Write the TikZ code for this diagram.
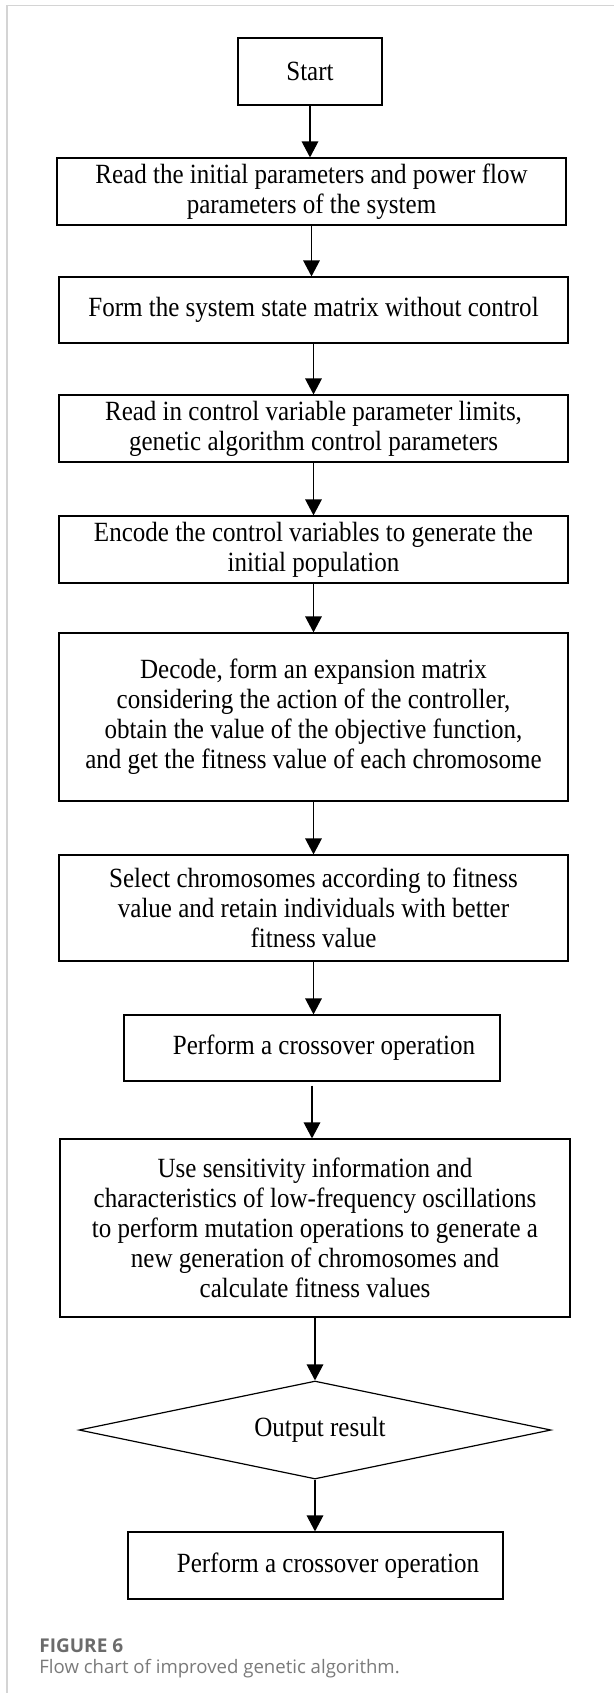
\documentclass[tikz,border=0pt]{standalone}
\usepackage{fontspec}
\setmainfont[FakeStretch=0.9]{Liberation Serif}
\newfontfamily\capfont{Open Sans}
\usetikzlibrary{arrows.meta,shapes.geometric}
\definecolor{framegray}{HTML}{D4D4D4}
\definecolor{capbold}{HTML}{6B6B6B}
\definecolor{captext}{HTML}{7A7A7A}
\tikzset{
  stepbox/.style={draw=black,line width=0.6pt,inner sep=0pt,align=center,
    font=\fontsize{13.9}{15}\selectfont},
  decbox/.style={draw=black,line width=0.6pt,diamond,aspect=4.8,inner sep=0pt,
    font=\fontsize{13.9}{15}\selectfont},
  arr/.style={draw=black,line width=0.6pt,-{Triangle[width=8.3pt,length=8pt]}},
}
\begin{document}
\begin{tikzpicture}[x=0.5pt,y=-0.5pt]
\useasboundingbox (0,0) rectangle (614,1693);
% frame
\draw[framegray,line width=0.8pt] (7,1693) -- (7,5.5) -- (614,5.5);

\node[stepbox,minimum width=72pt,minimum height=33.5pt] (start) at (310,71.5) {Start};
\node[stepbox,minimum width=254.5pt,minimum height=33.5pt] (b2) at (311.5,191.5)
  {Read the initial parameters and power flow\\parameters of the system};
\node[stepbox,minimum width=254.5pt,minimum height=33pt] (b3) at (313.5,310)
  {Form the system state matrix without control};
\node[stepbox,minimum width=254.5pt,minimum height=33.5pt] (b4) at (313.5,428.5)
  {Read in control variable parameter limits,\\genetic algorithm control parameters};
\node[stepbox,minimum width=254.5pt,minimum height=33.5pt] (b5) at (313.5,549.5)
  {Encode the control variables to generate the\\initial population};
\node[stepbox,minimum width=254.5pt,minimum height=84pt] (b6) at (313.5,717)
  {Decode, form an expansion matrix\\considering the action of the controller,\\obtain the value of the objective function,\\and get the fitness value of each chromosome};
\node[stepbox,minimum width=254.5pt,minimum height=53pt] (b7) at (313.5,908)
  {Select chromosomes according to fitness\\value and retain individuals with better\\fitness value};
\node[stepbox,minimum width=188pt,minimum height=33pt] (b8) at (312,1048)
  {\hspace*{12pt}Perform a crossover operation};
\node[stepbox,minimum width=255pt,minimum height=89pt] (b9) at (315,1228)
  {Use sensitivity information and\\characteristics of low-frequency oscillations\\to perform mutation operations to generate a\\new generation of chromosomes and\\calculate fitness values};
\node[decbox,minimum width=236pt,minimum height=49pt] (dec) at (315,1430)
  {\hspace*{5pt}Output result};
\node[stepbox,minimum width=187.5pt,minimum height=33.5pt] (b10) at (315.5,1565.5)
  {\hspace*{12.5pt}Perform a crossover operation};

\draw[arr] (start.south) -- (start.south |- b2.north);
\draw[arr] (b2.south) -- (b2.south |- b3.north);
\draw[arr] (b3.south) -- (b3.south |- b4.north);
\draw[arr] (b4.south) -- (b4.south |- b5.north);
\draw[arr] (b5.south) -- (b5.south |- b6.north);
\draw[arr] (b6.south) -- (b6.south |- b7.north);
\draw[arr] (b7.south) -- (b7.south |- b8.north);
\draw[arr] ([yshift=-2pt]b8.south) -- (b8.south |- b9.north);
\draw[arr] (b9.south) -- (b9.south |- dec.north);
\draw[arr] (dec.south) -- (dec.south |- b10.north);

% caption
\node[anchor=base west,inner sep=0pt,text=capbold,font=\capfont\bfseries\fontsize{9.5}{11}\selectfont] (cap1) at (39,1652) {FIGURE 6};
\node[anchor=base west,inner sep=0pt,text=captext,font=\capfont\fontsize{9.3}{11}\selectfont] (cap2) at (39,1673) {Flow chart of improved genetic algorithm.};
\end{tikzpicture}
\end{document}
